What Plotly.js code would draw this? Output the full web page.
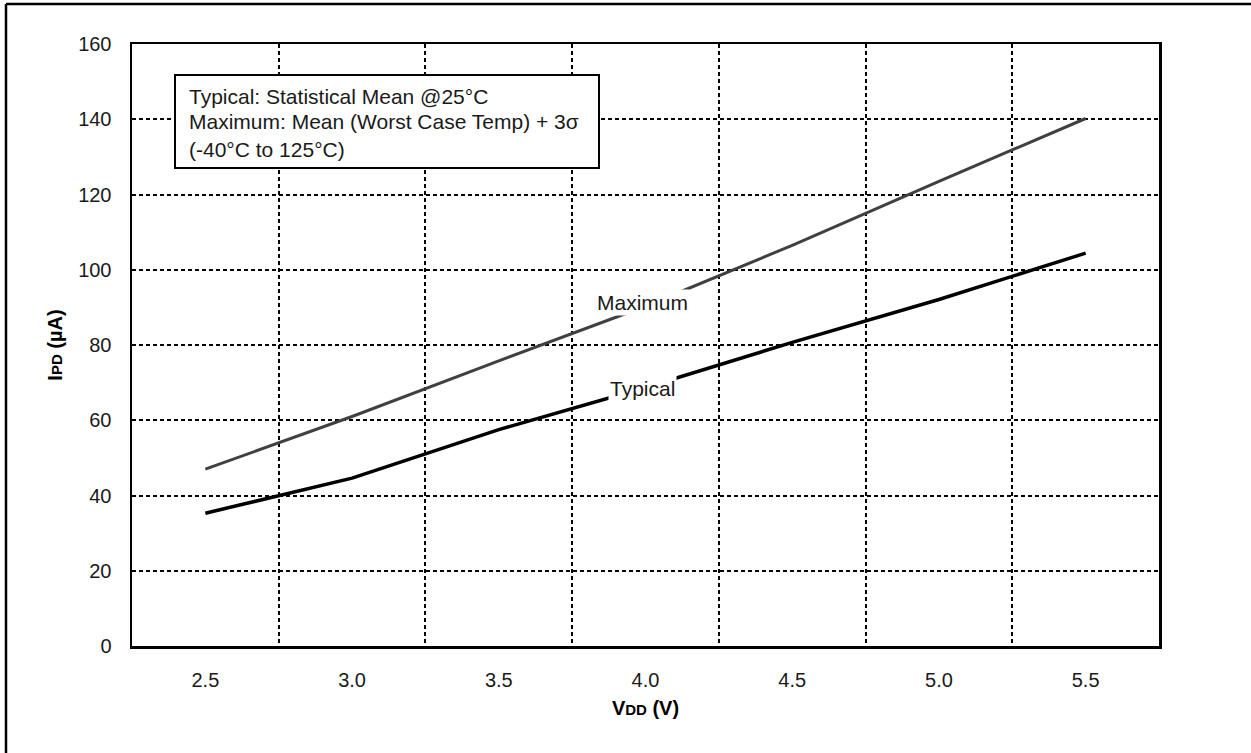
<!DOCTYPE html>
<html>
<head>
<meta charset="utf-8">
<script src="https://cdn.plot.ly/plotly-3.0.1.min.js"></script>
<style>
  html, body { margin: 0; padding: 0; background: #fff; }
  #chart { width: 1251px; height: 753px; }
</style>
</head>
<body>
<div id="chart"></div>
<script>
// Data
const vdd = ['2.5', '3.0', '3.5', '4.0', '4.5', '5.0', '5.5'];
const maximum = [47, 61, 75.8, 90.3, 106.5, 123.5, 140.2];
const typical = [35.3, 44.6, 57.5, 68.7, 80.7, 92.1, 104.4];
const yTicks = [0, 20, 40, 60, 80, 100, 120, 140, 160];

const FONT = 'Arial, "Liberation Sans", Helvetica, sans-serif';

const traces = [
  { x: vdd, y: maximum, type: 'scatter', mode: 'lines', name: 'Maximum',
    line: { color: '#404040', width: 3 }, hoverinfo: 'x+y' },
  { x: vdd, y: typical, type: 'scatter', mode: 'lines', name: 'Typical',
    line: { color: '#000000', width: 3.5 }, hoverinfo: 'x+y' }
];

// Plot area geometry helpers (paper units)
const L = 132, R = 1159, T = 44, B = 646, W = 1251, H = 753;
const px = v => (v - L) / (R - L);
const py = v => (B - v) / (B - T);

const layout = {
  width: W, height: H,
  margin: { l: L, r: W - R, t: T, b: H - B, pad: 0 },
  paper_bgcolor: '#ffffff', plot_bgcolor: '#ffffff',
  showlegend: false,
  font: { family: FONT, size: 20, color: '#000' },
  xaxis: {
    type: 'category',
    categoryorder: 'array', categoryarray: vdd,
    range: [-0.5, vdd.length - 0.5],
    tickson: 'boundaries',
    showgrid: true, gridcolor: '#000', gridwidth: 2, griddash: '4px,3px',
    showline: true, linecolor: '#000', linewidth: 2.5, mirror: true,
    ticks: '', ticklen: 0, ticklabelstandoff: 14,
    tickfont: { family: FONT, size: 20, color: '#1a1a1a' },
    zeroline: false,
    title: { text: '<b>V<span style="font-size:15px">DD</span> (V)</b>',
             font: { family: FONT, size: 20, color: '#000' }, standoff: 12 },
    fixedrange: true
  },
  yaxis: {
    range: [0, 160], tickvals: yTicks,
    showgrid: true, gridcolor: '#000', gridwidth: 2, griddash: '4px,3px',
    showline: true, linecolor: '#000', linewidth: 2.5, mirror: true,
    ticks: '', ticklen: 0, ticklabelstandoff: 14,
    tickfont: { family: FONT, size: 20, color: '#1a1a1a' },
    zeroline: false,
    title: { text: '<b>I<span style="font-size:15px">PD</span> (µA)</b>',
             font: { family: FONT, size: 20, color: '#000' }, standoff: 10 },
    fixedrange: true
  },
  shapes: [
    // note box
    { type: 'rect', xref: 'paper', yref: 'paper',
      x0: px(175), x1: px(599), y0: py(168), y1: py(75),
      line: { color: '#000', width: 2 }, fillcolor: '#ffffff', layer: 'above' },
    // outer frame (left and top edges)
    { type: 'line', xref: 'paper', yref: 'paper',
      x0: px(6), x1: px(6), y0: py(H + 5), y1: py(4),
      line: { color: '#000', width: 2.5 } },
    { type: 'line', xref: 'paper', yref: 'paper',
      x0: px(6), x1: px(W + 5), y0: py(4), y1: py(4),
      line: { color: '#000', width: 2.5 } }
  ],
  annotations: [
    { xref: 'paper', yref: 'paper', x: px(187), y: py(96), xanchor: 'left', yanchor: 'middle',
      text: 'Typical: Statistical Mean @25°C', showarrow: false,
      font: { family: FONT, size: 21, color: '#1a1a1a' } },
    { xref: 'paper', yref: 'paper', x: px(187), y: py(122), xanchor: 'left', yanchor: 'middle',
      text: 'Maximum: Mean (Worst Case Temp) + 3σ', showarrow: false,
      font: { family: FONT, size: 21, color: '#1a1a1a' } },
    { xref: 'paper', yref: 'paper', x: px(187), y: py(149), xanchor: 'left', yanchor: 'middle',
      text: '(-40°C to 125°C)', showarrow: false,
      font: { family: FONT, size: 21, color: '#1a1a1a' } },
    { xref: 'paper', yref: 'paper', x: px(642), y: py(302), xanchor: 'center', yanchor: 'middle',
      text: 'Maximum', showarrow: false, bgcolor: '#ffffff', borderpad: 1,
      font: { family: FONT, size: 21, color: '#1a1a1a' } },
    { xref: 'paper', yref: 'paper', x: px(642), y: py(388), xanchor: 'center', yanchor: 'middle',
      text: 'Typical', showarrow: false, bgcolor: '#ffffff', borderpad: 1,
      font: { family: FONT, size: 21, color: '#1a1a1a' } }
  ]
};

Plotly.newPlot('chart', traces, layout, { displayModeBar: false, staticPlot: true });
</script>
</body>
</html>
